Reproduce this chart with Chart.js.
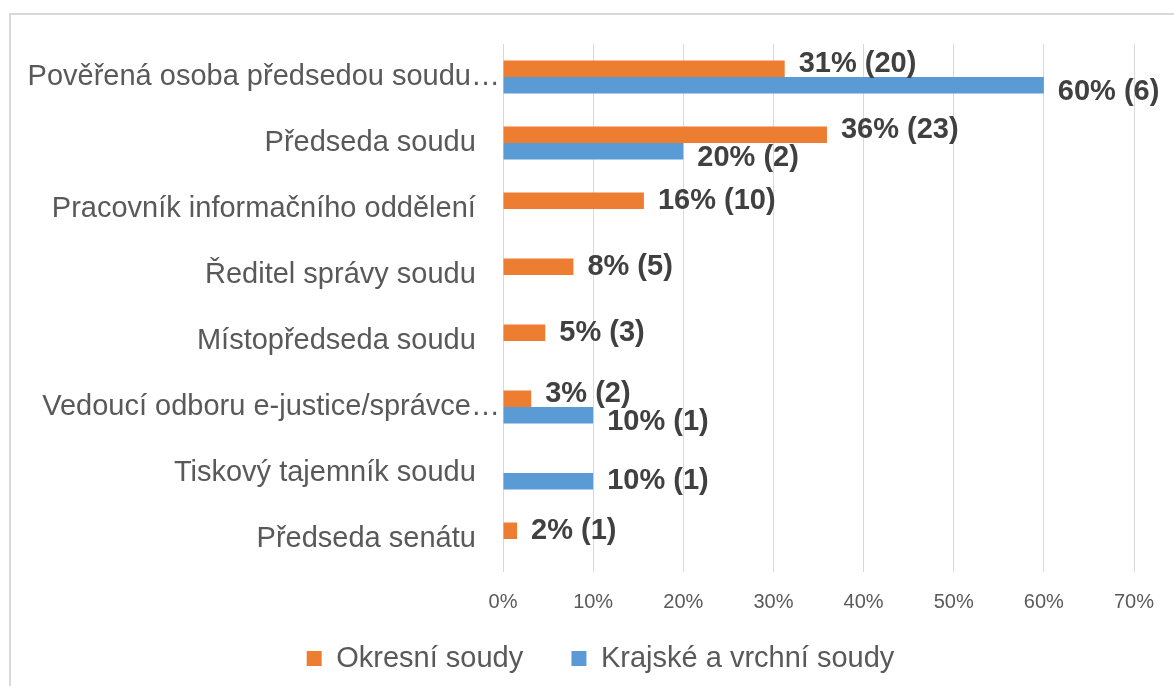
<!DOCTYPE html>
<html>
<head>
<meta charset="utf-8">
<script src="https://cdn.jsdelivr.net/npm/chart.js@4"></script>
<style>
  html, body { margin: 0; padding: 0; background: #fff; }
  #box {
    position: absolute; left: 9px; top: 13px;
    width: 1180px; height: 690px;
    border: 2px solid #d9d9d9; box-sizing: border-box;
  }
  #wrap { position: absolute; left: 11px; top: 15px; width: 1163px; height: 668px; }
</style>
</head>
<body>
<div id="box"></div>
<div id="wrap"><canvas id="graf"></canvas></div>
<script>
const kategorie = [
  'Pověřená osoba předsedou soudu…',
  'Předseda soudu',
  'Pracovník informačního oddělení',
  'Ředitel správy soudu',
  'Místopředseda soudu',
  'Vedoucí odboru e-justice/správce…',
  'Tiskový tajemník soudu',
  'Předseda senátu'
];
// podíly v % a počty odpovědí
const okresniProcenta = [31.25, 35.94, 15.63, 7.81, 4.69, 3.13, null, 1.56];
const okresniPocty = [20, 23, 10, 5, 3, 2, null, 1];
const krajskeProcenta = [60, 20, null, null, null, 10, 10, null];
const krajskePocty = [6, 2, null, null, null, 1, 1, null];
const osaTicks = [0, 10, 20, 30, 40, 50, 60, 70];

const pocty = [okresniPocty, krajskePocty];
const pismo = '"Liberation Sans", Arial, sans-serif';

const popisky = {
  id: 'popisky',
  afterDatasetsDraw(chart) {
    const ctx = chart.ctx;
    ctx.save();
    ctx.font = 'bold 29px ' + pismo;
    ctx.fillStyle = '#404040';
    ctx.textBaseline = 'middle';
    ctx.textAlign = 'left';
    chart.data.datasets.forEach((ds, di) => {
      const meta = chart.getDatasetMeta(di);
      meta.data.forEach((bar, i) => {
        const v = ds.data[i];
        if (v === null) return;
        const druha = chart.data.datasets[1 - di].data[i];
        let y = bar.y;
        if (druha !== null) y += di === 0 ? -5 : 7;
        const text = Math.round(v) + '% (' + pocty[di][i] + ')';
        ctx.fillText(text, bar.x + 14, y);
      });
    });
    ctx.restore();
  }
};

// posun legendy doprava jako v originále
const posunLegendy = {
  id: 'posunLegendy',
  afterLayout(chart) {
    chart.legend.left += 28;
    chart.legend.right += 28;
  }
};

new Chart(document.getElementById('graf'), {
  type: 'bar',
  data: {
    labels: kategorie,
    datasets: [{
      label: 'Okresní soudy',
      data: okresniProcenta,
      backgroundColor: '#ed7d31'
    }, {
      label: 'Krajské a vrchní soudy',
      data: krajskeProcenta,
      backgroundColor: '#5b9bd5'
    }]
  },
  options: {
    indexAxis: 'y',
    responsive: true,
    maintainAspectRatio: false,
    animation: false,
    categoryPercentage: 0.5,
    barPercentage: 1.0,
    layout: { padding: { top: 29, right: 40, bottom: 0, left: 0 } },
    scales: {
      x: {
        min: 0, max: 70,
        afterBuildTicks(scale) { scale.ticks = osaTicks.map(v => ({ value: v })); },
        afterFit(scale) { scale.height = 64; scale.paddingLeft = 0; scale.paddingRight = 0; },
        grid: { color: '#d9d9d9', drawTicks: false },
        border: { display: false },
        ticks: {
          padding: 18,
          color: '#595959',
          font: { family: pismo, size: 20 },
          callback: v => v + '%'
        }
      },
      y: {
        afterFit(scale) { scale.width = 492; scale.paddingTop = 0; scale.paddingBottom = 0; },
        grid: { display: false, drawTicks: false },
        border: { display: false },
        ticks: {
          padding: 3,
          color: '#595959',
          font: { family: pismo, size: 29 },
          callback(value) {
            const t = this.getLabelForValue(value);
            return t.endsWith('…') ? t : t + '   ';
          }
        }
      }
    },
    plugins: {
      legend: {
        position: 'bottom',
        labels: {
          boxWidth: 15,
          boxHeight: 15,
          padding: 8,
          color: '#595959',
          font: { family: pismo, size: 29 },
          generateLabels(chart) {
            const items = Chart.defaults.plugins.legend.labels.generateLabels(chart);
            items.forEach(it => { it.lineWidth = 0; });
            items[0].text = items[0].text + '     ';
            return items;
          }
        }
      },
      tooltip: { enabled: false }
    }
  },
  plugins: [popisky, posunLegendy]
});
</script>
</body>
</html>
